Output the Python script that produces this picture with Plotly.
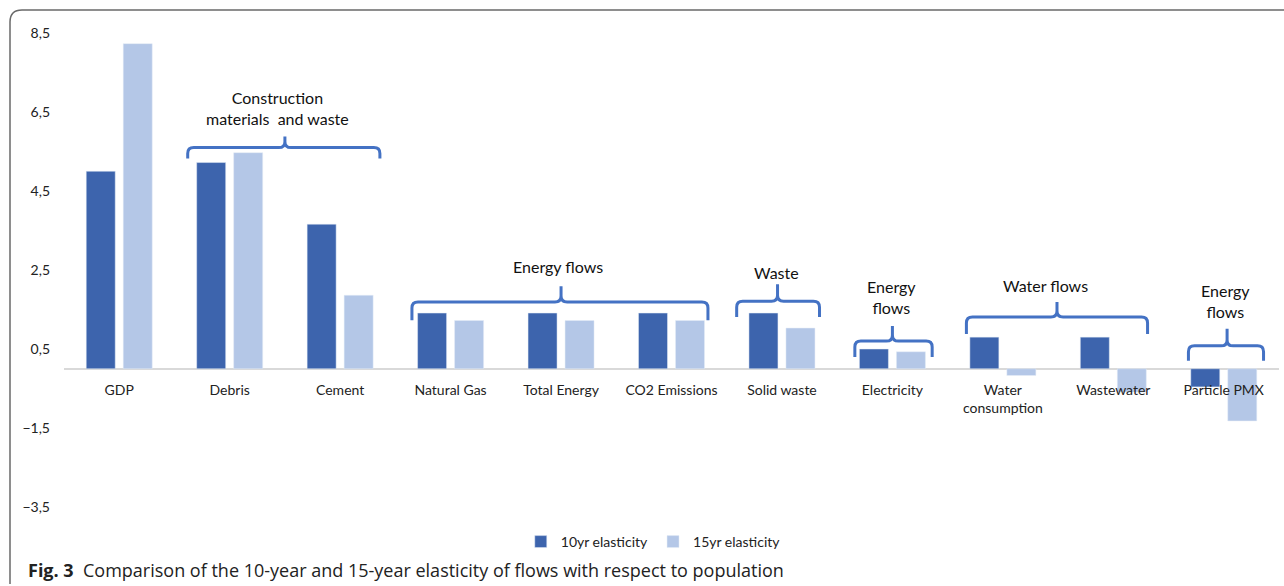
import plotly.graph_objects as go

categories = ["GDP", "Debris", "Cement", "Natural Gas", "Total Energy", "CO2 Emissions",
              "Solid waste", "Electricity", "Water<br>consumption", "Wastewater", "Particle PMX"]
elasticity_10yr = [5.0, 5.22, 3.66, 1.41, 1.41, 1.41, 1.41, 0.50, 0.80, 0.80, -0.46]
elasticity_15yr = [8.23, 5.47, 1.86, 1.22, 1.22, 1.22, 1.03, 0.43, -0.17, -0.59, -1.32]
y_ticks = [-3.5, -1.5, 0.5, 2.5, 4.5, 6.5, 8.5]

# group labels: (text, x0, x1, xc, y_line, y_end, y_tip, label_x, label_y)
groups = [
    ("Construction<br>materials  and waste", 0.62, 2.36, 1.50, 5.60, 5.32, 5.88, 1.43, 6.61),
    ("Energy flows", 2.65, 5.33, 4.00, 1.69, 1.23, 2.09, 3.97, 2.60),
    ("Waste", 5.59, 6.34, 5.96, 1.71, 1.31, 2.14, 5.95, 2.44),
    ("Energy<br>flows", 6.66, 7.36, 7.00, 0.70, 0.30, 1.08, 6.99, 1.81),
    ("Water flows", 7.67, 9.31, 8.49, 1.31, 0.88, 1.69, 8.39, 2.12),
    ("Energy<br>flows", 9.68, 10.36, 10.03, 0.58, 0.20, 1.01, 10.02, 1.71),
]

DARK = "#3D64AD"
LIGHT = "#B4C7E7"
BRACE = "#4472C4"
FONT = "Lato"

x_idx = list(range(len(categories)))

fig = go.Figure()
fig.add_trace(go.Bar(x=x_idx, y=elasticity_10yr, name="10yr elasticity", marker_color=DARK))
fig.add_trace(go.Bar(x=x_idx, y=elasticity_15yr, name="15yr elasticity", marker_color=LIGHT))

rx, ry = 0.055, 0.15
for (txt, x0, x1, xc, yl, ye, yt, lx, ly) in groups:
    path = (f"M {x0},{ye} L {x0},{yl-ry} Q {x0},{yl} {x0+rx},{yl} "
            f"L {xc-rx},{yl} Q {xc},{yl} {xc},{yl+ry} L {xc},{yt} "
            f"M {xc},{yl+ry} Q {xc},{yl} {xc+rx},{yl} "
            f"L {x1-rx},{yl} Q {x1},{yl} {x1},{yl-ry} L {x1},{ye}")
    fig.add_shape(type="path", path=path, xref="x", yref="y",
                  line=dict(color=BRACE, width=3), layer="above")
    fig.add_annotation(x=lx, y=ly, xref="x", yref="y", text=txt, showarrow=False,
                       font=dict(family=FONT, size=16, color="#111"), align="center")

def fx(px):
    return (px - 64) / 1215
def fy(py):
    return (507 - py) / 474

# figure border (rounded top-left corner)
border = (f"M {fx(10)},{fy(584)} L {fx(10)},{fy(22)} Q {fx(10)},{fy(10)} {fx(22)},{fy(10)} "
          f"L {fx(1290)},{fy(10)}")
fig.add_shape(type="path", path=border, xref="paper", yref="paper",
              line=dict(color="#6a6a6a", width=1.5))

fig.add_annotation(xref="paper", yref="paper", x=fx(26), y=fy(570), xanchor="left", yanchor="middle",
                   text="<b>Fig. 3</b>  Comparison of the 10-year and 15-year elasticity of flows with respect to population",
                   showarrow=False, font=dict(family="Open Sans", size=18, color="#222"))

fig.update_layout(
    width=1284, height=586,
    margin=dict(l=64, r=5, t=33, b=79),
    paper_bgcolor="white", plot_bgcolor="white",
    separators=",.",
    barmode="group", bargap=0.33, bargroupgap=0.216,
    font=dict(family=FONT, size=14, color="#222"),
    showlegend=True,
    legend=dict(orientation="h", x=0.485, xanchor="center", y=fy(542), yanchor="middle",
                font=dict(family=FONT, size=14, color="#222"), itemwidth=30),
    xaxis=dict(range=[-0.5, 10.5], tickvals=x_idx, ticktext=categories,
               anchor="free", position=fy(370), showline=False, showgrid=False,
               ticks="", ticklabelstandoff=10, zeroline=False,
               tickfont=dict(family=FONT, size=14, color="#222")),
    yaxis=dict(range=[-3.5, 8.5], tickvals=y_ticks, tickformat=".1f", showgrid=False,
               zeroline=True, zerolinecolor="#D9D9D9", zerolinewidth=2,
               showline=False, ticks="", ticklabelstandoff=13,
               tickfont=dict(family=FONT, size=14, color="#222")),
)

fig.write_html("out.html")
